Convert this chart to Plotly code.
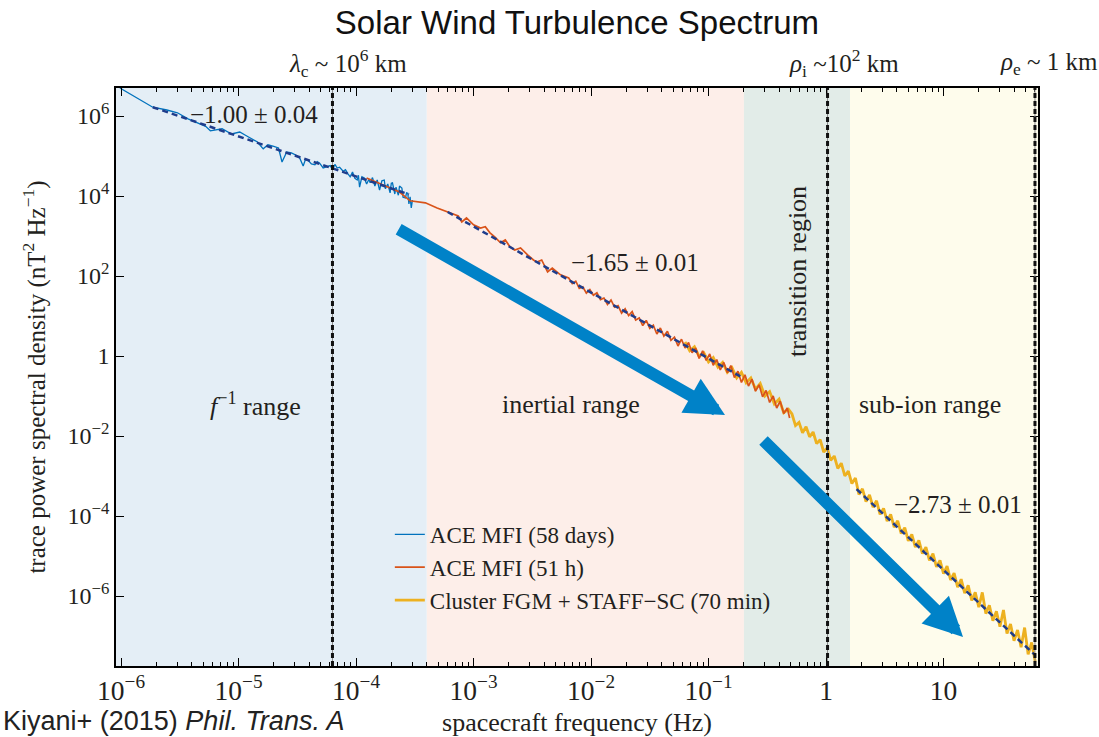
import math
import plotly.graph_objects as go

SERIF = "Liberation Serif, Times New Roman, serif"
SANS = "Liberation Sans, Arial, sans-serif"
INK = "#231f20"

# ---- spectra: log10 frequency (Hz) and log10 trace PSD (nT^2 Hz^-1) ----
ace58_logf = [-6.01, -5.73, -5.61, -5.52, -5.43, -5.35, -5.28, -5.24, -5.19, -5.14,
              -5.06, -4.99, -4.93, -4.84, -4.79, -4.75, -4.70, -4.66, -4.63, -4.59,
              -4.55, -4.51, -4.48, -4.45, -4.43, -4.41, -4.38, -4.35, -4.33, -4.31,
              -4.28, -4.25, -4.22, -4.20, -4.18, -4.16, -4.14, -4.11, -4.09, -4.07,
              -4.05, -4.03, -4.01, -3.99, -3.98, -3.97, -3.95, -3.93, -3.91, -3.89,
              -3.88, -3.86, -3.84, -3.82, -3.81, -3.80, -3.78, -3.76, -3.75, -3.73,
              -3.71, -3.70, -3.69, -3.67, -3.66, -3.64, -3.63, -3.61, -3.60, -3.58,
              -3.57, -3.56, -3.55, -3.54, -3.53, -3.52]
ace58_logp = [6.70, 6.22, 6.15, 6.08, 5.93, 5.83, 5.74, 5.63, 5.66, 5.68,
              5.55, 5.60, 5.50, 5.35, 5.18, 5.28, 5.24, 5.20, 4.85, 5.10,
              5.08, 5.02, 4.95, 4.75, 4.92, 4.90, 4.80, 4.78, 4.86, 4.82,
              4.70, 4.73, 4.76, 4.66, 4.79, 4.70, 4.72, 4.62, 4.66, 4.56,
              4.48, 4.60, 4.44, 4.40, 4.52, 4.22, 4.48, 4.45, 4.30, 4.42,
              4.33, 4.46, 4.25, 4.40, 4.30, 4.15, 4.38, 4.40, 4.18, 4.30,
              4.08, 4.32, 4.33, 4.05, 4.22, 4.02, 4.25, 4.20, 3.97, 3.95,
              4.08, 4.07, 3.80, 3.98, 3.70, 3.90]

ace51_logf = [-3.91, -3.74, -3.63, -3.54, -3.41, -3.31, -3.22, -3.13, -3.10, -3.06,
              -3.00, -2.94, -2.90, -2.86, -2.82, -2.77, -2.73, -2.69, -2.65, -2.60,
              -2.54, -2.49, -2.46, -2.42, -2.37, -2.33, -2.26,
              -2.19, -2.16, -2.13, -2.10, -2.07, -2.04, -2.01, -1.98, -1.95, -1.92,
              -1.89, -1.86, -1.83, -1.80, -1.77, -1.74, -1.71, -1.68, -1.65, -1.62,
              -1.59, -1.56, -1.53, -1.50, -1.47, -1.44, -1.41, -1.38, -1.35, -1.32,
              -1.29, -1.26, -1.23, -1.20, -1.17, -1.14, -1.11, -1.08, -1.05, -1.02,
              -0.99, -0.96, -0.93, -0.90, -0.87, -0.84, -0.81, -0.78, -0.75, -0.72,
              -0.69, -0.66, -0.63, -0.60, -0.57, -0.54, -0.51, -0.48, -0.45, -0.42,
              -0.39, -0.36, -0.33, -0.31]
ace51_logp = [4.45, 4.23, 4.10, 3.88, 3.83, 3.70, 3.60, 3.50, 3.35, 3.45,
              3.28, 3.20, 3.23, 3.08, 2.98, 2.83, 2.90, 2.73, 2.65, 2.70,
              2.53, 2.40, 2.35, 2.40, 2.10, 2.20, 2.03,
              1.95, 1.81, 1.87, 1.69, 1.73, 1.57, 1.66, 1.52, 1.58, 1.41,
              1.45, 1.29, 1.40, 1.22, 1.26, 1.07, 1.18, 1.01, 1.11, 0.90,
              0.95, 0.76, 0.89, 0.69, 0.77, 0.55, 0.70, 0.50, 0.62, 0.39,
              0.47, 0.25, 0.42, 0.20, 0.34, 0.08, 0.20, -0.06, 0.13, -0.11,
              0.05, -0.23, -0.09, -0.35, -0.16, -0.42, -0.24, -0.54, -0.38, -0.66,
              -0.47, -0.75, -0.58, -0.88, -0.72, -1.02, -0.86, -1.16, -1.00, -1.30,
              -1.13, -1.44, -1.30, -1.55]

cluster_logf = [-1.20, -1.16, -1.12, -1.08, -1.04, -1.00, -0.96, -0.92, -0.88, -0.84,
                -0.80, -0.76, -0.72, -0.68, -0.64, -0.60, -0.56, -0.52, -0.48, -0.44,
                -0.40, -0.36, -0.32,
                -0.29, -0.26, -0.23, -0.20, -0.17, -0.14, -0.11, -0.08, -0.05, -0.02,
                0.01, 0.04, 0.07, 0.10, 0.13, 0.16, 0.19, 0.22, 0.25,
                0.28, 0.31, 0.34, 0.37, 0.40, 0.43, 0.46, 0.49, 0.52, 0.55,
                0.58, 0.61, 0.64, 0.67, 0.70, 0.73, 0.76, 0.79, 0.82, 0.85,
                0.88, 0.91, 0.94, 0.97, 1.00, 1.03, 1.06, 1.09, 1.12, 1.15,
                1.18, 1.21, 1.24, 1.27, 1.30, 1.33, 1.36, 1.39, 1.42, 1.45,
                1.48, 1.51, 1.54, 1.57, 1.60, 1.63, 1.66, 1.69, 1.72, 1.75, 1.78]
cluster_logp = [0.35, 0.13, 0.23, -0.01, 0.08, -0.15, -0.04, -0.28, -0.16, -0.41,
                -0.29, -0.55, -0.41, -0.67, -0.55, -0.83, -0.69, -1.00, -0.89, -1.20,
                -1.08, -1.42, -1.33,
                -1.45, -1.74, -1.66, -1.92, -1.77, -2.02, -1.90, -2.19, -2.09, -2.40,
                -2.30, -2.61, -2.50, -2.81, -2.68, -3.00, -2.88, -3.19, -3.05,
                -3.46, -3.32, -3.64, -3.47, -3.78, -3.62, -3.96, -3.81, -4.13, -3.96,
                -4.28, -4.12, -4.44, -4.29, -4.62, -4.46, -4.78, -4.61, -4.94, -4.78,
                -5.11, -4.94, -5.27, -5.11, -5.44, -5.25, -5.60, -5.43, -5.78, -5.58,
                -5.93, -5.73, -6.11, -5.91, -6.28, -5.91, -6.44, -6.23, -6.62, -6.38,
                -6.77, -6.35, -6.94, -6.70, -7.12, -6.85, -7.28, -6.79, -7.46, -7.16, -7.64]

series_names = ["ACE MFI (58 days)", "ACE MFI (51 h)", "Cluster FGM + STAFF\u2212SC (70 min)"]
series_colors = ["#0072BD", "#D95319", "#EDB120"]

# ---- power-law fits ----
fit_slope = [-1.00, -1.65, -2.73]
fit_err = [0.04, 0.01, 0.01]
fit_logf_start = [-5.73, -3.22, 0.26]
fit_logf_end = [-3.55, -0.73, 1.78]
fit_logp_start = [6.22, 3.60, -3.33]
fit_label_pos = [(-4.87, 6.05), (-1.63, 2.33), (1.12, -3.72)]

# ---- frequency ranges (Hz) and characteristic scales ----
range_edges_hz = [10 ** -6.043, 4e-4, 0.2, 1.6, 10 ** 1.804]
range_colors = ["#e4eef6", "#fdeee9", "#e2ece8", "#fefcec"]
scale_hz = [6.3e-5, 1.03, 60.0]
scale_labels = ["<i>λ</i><sub>c</sub> ~ 10<sup>6</sup> km",
                "<i>ρ</i><sub>i</sub> ~10<sup>2</sup> km",
                "<i>ρ</i><sub>e</sub> ~ 1 km"]
scale_label_shift = [16, 16, 14]

region_labels = ["<i>f</i><sup>\u22121</sup> range", "inertial range", "sub-ion range"]
region_label_pos = [(-4.86, -1.22), (-2.17, -1.20), (0.885, -1.22)]


def pw(vals):
    return [10 ** v for v in vals]


fig = go.Figure()

# spectra (Cluster drawn beneath the 51 h ACE curve)
order = [(ace58_logf, ace58_logp, 0, 1.3), (cluster_logf, cluster_logp, 2, 2.8),
         (ace51_logf, ace51_logp, 1, 1.7)]
for lf, lp, i, w in order:
    fig.add_trace(go.Scatter(
        x=pw(lf), y=pw(lp), mode="lines", name=series_names[i],
        line=dict(color=series_colors[i], width=w), legendrank=i + 1,
    ))

# dashed fit lines
for s, f0, f1, p0 in zip(fit_slope, fit_logf_start, fit_logf_end, fit_logp_start):
    p1 = p0 + s * (f1 - f0)
    fig.add_trace(go.Scatter(
        x=[10 ** f0, 10 ** f1], y=[10 ** p0, 10 ** p1], mode="lines",
        line=dict(color="#1f3d8c", width=2.5, dash="6px,4px"), showlegend=False,
    ))

shapes = []
for c, a, b in zip(range_colors, range_edges_hz[:-1], range_edges_hz[1:]):
    shapes.append(dict(type="rect", xref="x", yref="paper", x0=a, x1=b, y0=0, y1=1,
                       fillcolor=c, line=dict(width=0), layer="below"))
for f in scale_hz:
    shapes.append(dict(type="line", xref="x", yref="paper", x0=f, x1=f, y0=0, y1=1,
                       line=dict(color="#888888", width=1)))
    shapes.append(dict(type="line", xref="x", yref="paper", x0=f, x1=f, y0=0, y1=1,
                       line=dict(color="#111111", width=3, dash="5px,3px")))

annotations = []
for s, e, (x, y) in zip(fit_slope, fit_err, fit_label_pos):
    annotations.append(dict(x=x, y=y, xref="x", yref="y", showarrow=False,
                            text=f"\u2212{abs(s):.2f} ± {e:.2f}",
                            font=dict(family=SERIF, size=25, color=INK)))
for t, (x, y) in zip(region_labels, region_label_pos):
    annotations.append(dict(x=x, y=y, xref="x", yref="y", showarrow=False, text=t,
                            font=dict(family=SERIF, size=26, color=INK)))
annotations.append(dict(x=-0.247, y=2.1, xref="x", yref="y", showarrow=False,
                        text="transition region", textangle=-90,
                        font=dict(family=SERIF, size=26, color=INK)))
for f, t, sh in zip(scale_hz, scale_labels, scale_label_shift):
    annotations.append(dict(x=math.log10(f), y=1.043, xref="x", yref="paper", xshift=sh,
                            showarrow=False, text=t, yanchor="middle",
                            font=dict(family=SERIF, size=25, color=INK)))

# trend arrows
arrows = [((-3.65, 3.19), (-0.86, -1.475)), ((-0.545, -2.075), (1.166, -7.025))]
for (tx, ty), (hx, hy) in arrows:
    annotations.append(dict(x=hx, y=hy, ax=tx, ay=ty, xref="x", yref="y",
                            axref="x", ayref="y", text="", showarrow=True,
                            arrowhead=2, arrowwidth=12, arrowsize=0.65,
                            arrowcolor="#0082c8", standoff=0))

annotations.append(dict(x=-0.1247, y=-0.095, xref="paper", yref="paper", xanchor="left",
                        yanchor="middle", showarrow=False,
                        text="Kiyani+ (2015) <i>Phil. Trans. A</i>",
                        font=dict(family=SANS, size=27, color="#222222")))

y_tick_exp = [6, 4, 2, 0, -2, -4, -6]
y_tick_text = ["1" if k == 0 else f"10<sup>{'\u2212' if k < 0 else ''}{abs(k)}</sup>"
               for k in y_tick_exp]

fig.update_layout(
    width=1099, height=737,
    margin=dict(l=116, r=61, t=88, b=71),
    paper_bgcolor="white", plot_bgcolor="white",
    title=dict(text="Solar Wind Turbulence Spectrum", x=0.525, xanchor="center",
               y=0.97, yanchor="middle", yref="container",
               font=dict(family=SANS, size=33, color="#111111")),
    shapes=shapes, annotations=annotations,
    legend=dict(x=0.297, y=0.265, xanchor="left", yanchor="top",
                bgcolor="rgba(0,0,0,0)", font=dict(family=SERIF, size=23, color=INK),
                itemwidth=30, tracegroupgap=0),
    xaxis=dict(type="log", range=[-6.043, 1.804], dtick=1, tick0=0,
               exponentformat="power", showexponent="all",
               ticks="inside", ticklen=8, tickcolor="black", tickwidth=1,
               minor=dict(ticks="inside", ticklen=4, tickcolor="black", tickwidth=1),
               showline=True, linecolor="black", linewidth=1.5, mirror="allticks",
               showgrid=False, zeroline=False, automargin=False,
               tickfont=dict(family=SERIF, size=22, color=INK),
               title=dict(text="spacecraft frequency (Hz)",
                          font=dict(family=SERIF, size=26, color=INK))),
    yaxis=dict(type="log", range=[-7.75, 6.70],
               tickmode="array", tickvals=[10 ** k for k in y_tick_exp], ticktext=y_tick_text,
               ticks="inside", ticklen=8, tickcolor="black", tickwidth=1,
               showline=True, linecolor="black", linewidth=1.5, mirror="ticks",
               showgrid=False, zeroline=False, automargin=False,
               tickfont=dict(family=SERIF, size=24, color=INK),
               title=dict(text="trace power spectral density (nT<sup>2</sup> Hz<sup>\u22121</sup>)",
                          font=dict(family=SERIF, size=25, color=INK))),
)

fig.write_html("out.html")
